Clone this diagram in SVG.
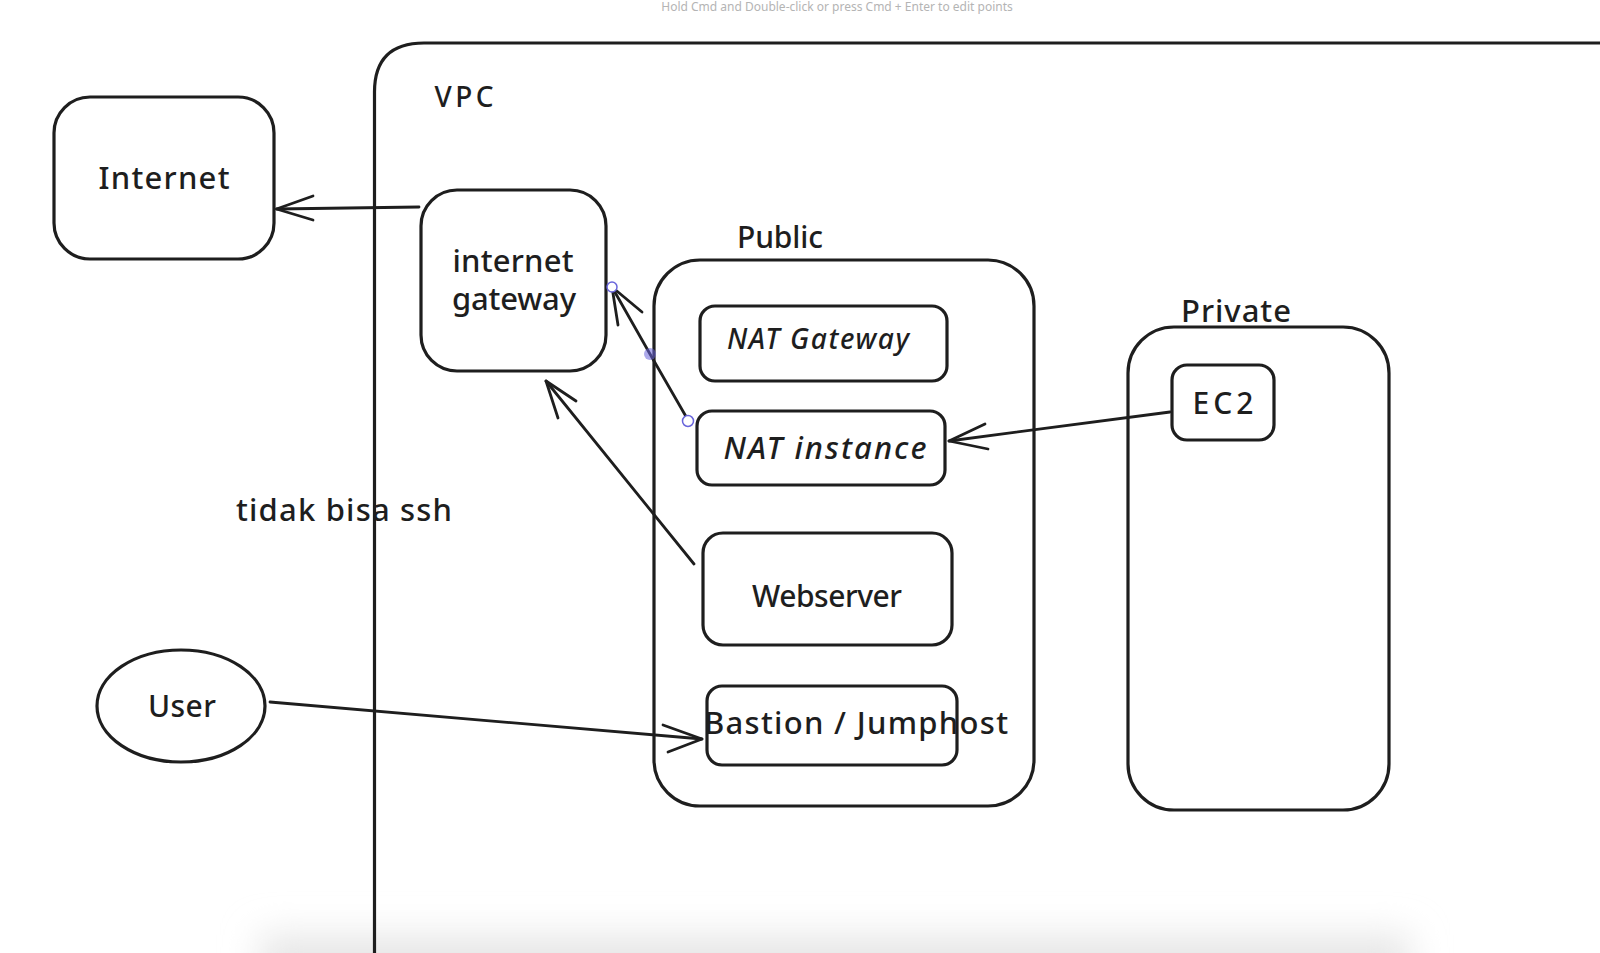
<svg xmlns="http://www.w3.org/2000/svg" width="1600" height="953" viewBox="0 0 1600 953">
<defs>
<style>
.box{fill:none;stroke:#1e1e1e;stroke-width:3.2;stroke-linejoin:round}
.ln{fill:none;stroke:#1e1e1e;stroke-width:2.8;stroke-linecap:round;stroke-linejoin:round}
.t{font-family:"Noto Sans","DejaVu Sans",sans-serif;font-weight:500;fill:#1e1e1e;text-anchor:middle}
.hint{font-family:"Noto Sans","DejaVu Sans",sans-serif;fill:#b4b4b4;font-size:12px;text-anchor:middle}
.hnd{fill:#fff;stroke:#6965db;stroke-width:1.5}
</style>
<filter id="blur" x="-20%" y="-100%" width="140%" height="300%">
<feGaussianBlur stdDeviation="18"/>
</filter>
</defs>
<rect width="1600" height="953" fill="#ffffff"/>
<rect x="260" y="935" width="1150" height="60" fill="#e6e6e6" filter="url(#blur)"/>
<text class="hint" x="837" y="11">Hold Cmd and Double-click or press Cmd + Enter to edit points</text>

<g id="vpc">
<path class="box" d="M374.5,953 L374.5,92 Q374.5,43 424,43 L1600,43"/>
<text class="t" x="464" y="107" font-size="28" textLength="59" lengthAdjust="spacing">VPC</text>
</g>

<g id="internet">
<rect class="box" x="54" y="97" width="220" height="162" rx="36"/>
<text class="t" x="164" y="189" font-size="31" textLength="131" lengthAdjust="spacing">Internet</text>
</g>

<g id="igw">
<rect class="box" x="421" y="190" width="185" height="181" rx="36"/>
<text class="t" x="513" y="272" font-size="31" textLength="121" lengthAdjust="spacing">internet</text>
<text class="t" x="514" y="310" font-size="31" textLength="124" lengthAdjust="spacing">gateway</text>
</g>

<g id="public">
<text class="t" x="780" y="248" font-size="30" textLength="86" lengthAdjust="spacing">Public</text>
<rect class="box" x="654" y="260" width="380" height="546" rx="46"/>
</g>

<g id="nat-gateway">
<rect class="box" x="700" y="306" width="247" height="75" rx="15"/>
<text class="t" x="818" y="349" font-size="28" font-style="italic" textLength="182" lengthAdjust="spacing">NAT Gateway</text>
</g>

<g id="nat-instance">
<rect class="box" x="697" y="411" width="248" height="74" rx="15"/>
<text class="t" x="825" y="459" font-size="31" font-style="italic" textLength="203" lengthAdjust="spacing">NAT instance</text>
</g>

<g id="webserver">
<rect class="box" x="703" y="533" width="249" height="112" rx="20"/>
<text class="t" x="827" y="607" font-size="30" textLength="150" lengthAdjust="spacing">Webserver</text>
</g>

<g id="bastion">
<rect class="box" x="707" y="686" width="250" height="79" rx="15"/>
<text class="t" x="856" y="734" font-size="31" textLength="304" lengthAdjust="spacing">Bastion / Jumphost</text>
</g>

<g id="private">
<text class="t" x="1236" y="322" font-size="31" textLength="110" lengthAdjust="spacing">Private</text>
<rect class="box" x="1128" y="327" width="261" height="483" rx="46"/>
</g>

<g id="ec2">
<rect class="box" x="1172" y="365" width="102" height="75" rx="15"/>
<text class="t" x="1223" y="414" font-size="30" textLength="61" lengthAdjust="spacing">EC2</text>
</g>

<g id="user">
<ellipse class="box" cx="181" cy="706" rx="84" ry="56"/>
<text class="t" x="182" y="717" font-size="30" textLength="68" lengthAdjust="spacing">User</text>
</g>

<g id="note">
<text class="t" x="344" y="521" font-size="31" textLength="216" lengthAdjust="spacing">tidak bisa ssh</text>
</g>

<g id="connectors">
<path class="ln" d="M419,207 L276.5,209"/>
<path class="ln" d="M313,196 L276.5,209 L313,220"/>
<path class="ln" d="M1170,412 L949,441"/>
<path class="ln" d="M985,424 L949,441 L988,449"/>
<path class="ln" d="M688,420 L650,354 L612,287"/>
<path class="ln" d="M642,312 L612,287 L618,325"/>
<path class="ln" d="M694,564 L546,381"/>
<path class="ln" d="M576,401 L546,381 L558,418"/>
<path class="ln" d="M270,702 L702,739"/>
<path class="ln" d="M663,725 L702,739 L668,752"/>
<circle class="hnd" cx="612" cy="287" r="5"/>
<circle cx="650" cy="354" r="6" fill="#6965db" fill-opacity="0.55"/>
<circle class="hnd" cx="688" cy="421" r="5.5"/>
</g>
</svg>
